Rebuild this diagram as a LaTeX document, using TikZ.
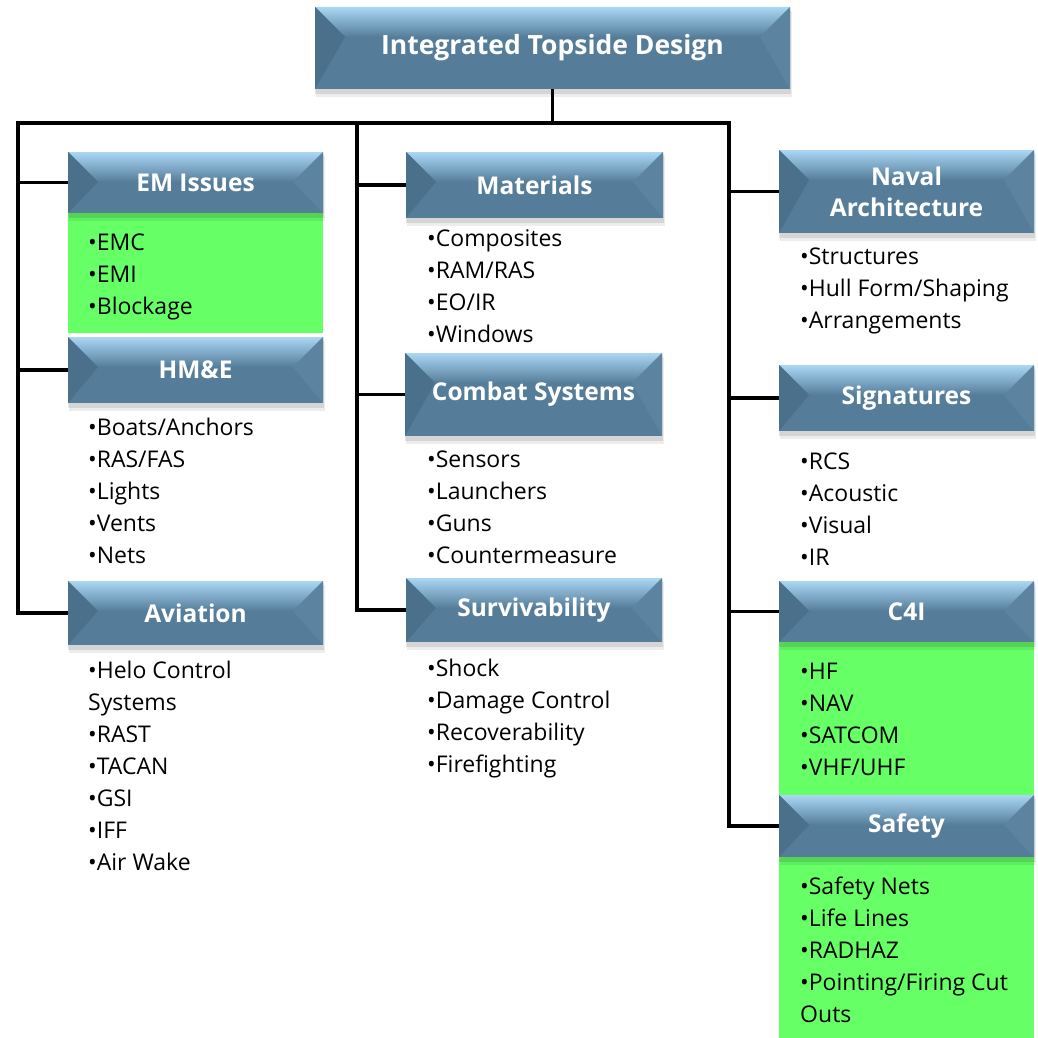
\documentclass[tikz,border=0pt]{standalone}
\usepackage{fontspec}
\setmainfont{Open Sans}
\definecolor{steel}{HTML}{557D9A}
\definecolor{steeltop}{HTML}{AAD7F4}
\definecolor{steeldark}{HTML}{4B708C}
\definecolor{steelside}{HTML}{5C84A1}
\definecolor{listgreen}{HTML}{66FF66}

\tikzset{
  conn/.style={line width=3.2pt, draw=black},
  hdr/.style={inner sep=0pt, text=white, font=\bfseries\fontsize{24.5}{31}\selectfont, align=center},
  titletext/.style={inner sep=0pt, text=white, font=\bfseries\fontsize{26.5}{34}\selectfont},
  listitem/.style={inner sep=0pt, anchor=base west, font=\fontsize{23}{28}\selectfont},
  greenpanel/.style={fill=listgreen, draw=none}
}

% bevelled header box: name, x1, y1, x2, y2, label, label style
\newcommand\bevelbox[7]{%
  \fill[black, opacity=0.07] (#2+1,#3+4) rectangle (#4+2,#5+8);
  \fill[black, opacity=0.10] (#2,#3+2) rectangle (#4+1,#5+5);
  \fill[steel] (#2,#3) rectangle (#4,#5);
  \shade[top color=steeltop, bottom color=steel]
    (#2,#3) -- (#4,#3) -- (#4-30,#3+30) -- (#2+30,#3+30) -- cycle;
  \fill[steeldark] (#2,#3) -- (#2+30,#3+30) -- (#2,#5) -- cycle;
  \fill[steelside] (#4,#3) -- (#4-30,#3+30) -- (#4,#5) -- cycle;
  \node[#7, minimum width={(#4-#2)*1pt}, minimum height={(#5-#3)*1pt}]
    (#1) at ({(#2+#4)/2},{(#3+#5)/2}) {#6};
}

% bulleted list, one node per line: prefix, x, first baseline, lines
\newcommand\linelist[4]{%
  \foreach \t [count=\i] in {#4}
    \node[listitem] (#1-\i) at (#2,{#3+32*(\i-1)}) {\t};
}

\begin{document}
\begin{tikzpicture}[x=1pt, y=-1pt]
\useasboundingbox (0,0) rectangle (1038,1038);

% green panels behind some lists
\fill[greenpanel] (68,213) rectangle (323,333);
\fill[greenpanel] (779,642) rectangle (1034,795);
\fill[greenpanel] (779,857) rectangle (1034,1038);

% connector skeleton
\coordinate (busL) at (16.4,123);
\coordinate (busR) at (730.6,123);
\coordinate (colA) at (18,123);
\coordinate (colB) at (357,123);
\coordinate (colC) at (729,123);

% header boxes
\bevelbox{title}{315}{7}{790}{89}{Integrated Topside Design}{titletext}
\bevelbox{emi}{68}{152}{323}{213}{EM Issues}{hdr}
\bevelbox{hme}{68}{337}{323}{403}{HM\&E}{hdr}
\bevelbox{avi}{68}{581}{323}{645}{Aviation}{hdr}
\bevelbox{mat}{406}{152}{663}{218}{Materials}{hdr}
\bevelbox{cmb}{405}{353}{662}{436}{Combat Systems}{hdr}
\bevelbox{srv}{406}{578}{662}{642}{Survivability}{hdr}
\bevelbox{nav}{779}{150}{1034}{233}{Naval\\Architecture}{hdr}
\bevelbox{sig}{779}{365}{1034}{431}{Signatures}{hdr}
\bevelbox{cfi}{779}{581}{1034}{642}{C4I}{hdr}
\bevelbox{saf}{779}{795}{1034}{857}{Safety}{hdr}

% connectors
\draw[conn] (title.south) -- (title.south |- busL);
\draw[conn] (busL) -- (busR);
\draw[conn] (colA) |- (avi.west);
\draw[conn] (emi.west -| colA) -- (emi.west);
\draw[conn] (hme.west -| colA) -- (hme.west);
\draw[conn] (colB) |- (srv.west);
\draw[conn] (mat.west -| colB) -- (mat.west);
\draw[conn] (cmb.west -| colB) -- (cmb.west);
\draw[conn] (colC) |- (saf.west);
\draw[conn] (nav.west -| colC) -- (nav.west);
\draw[conn] (sig.west -| colC) -- (sig.west);
\draw[conn] (cfi.west -| colC) -- (cfi.west);

% lists
\linelist{emiL}{88}{250}{•EMC, •EMI, •Blockage}
\linelist{hmeL}{88}{435}{•Boats/Anchors, •RAS/FAS, •Lights, •Vents, •Nets}
\linelist{aviL}{88}{678}{•Helo Control, Systems, •RAST, •TACAN, •GSI, •IFF, •Air Wake}
\linelist{matL}{427}{246}{•Composites, •RAM/RAS, •EO/IR, •Windows}
\linelist{cmbL}{427}{467}{•Sensors, •Launchers, •Guns, •Countermeasure}
\linelist{srvL}{427}{676}{•Shock, •Damage Control, •Recoverability, •Firefighting}
\linelist{navL}{800}{264}{•Structures, •Hull Form/Shaping, •Arrangements}
\linelist{sigL}{800}{469}{•RCS, •Acoustic, •Visual, •IR}
\linelist{cfiL}{800}{679}{•HF, •NAV, •SATCOM, •VHF/UHF}
\linelist{safL}{800}{894}{•Safety Nets, •Life Lines, •RADHAZ, •Pointing/Firing Cut, Outs}
\end{tikzpicture}
\end{document}
